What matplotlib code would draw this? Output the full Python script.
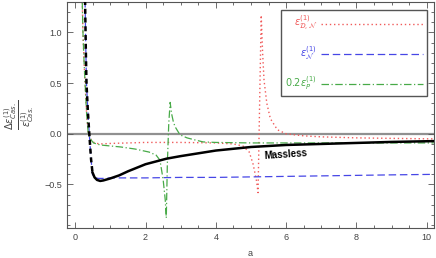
import matplotlib.pyplot as plt
from matplotlib.ticker import MultipleLocator

plt.rcParams['font.family'] = ['Liberation Sans', 'DejaVu Sans']
plt.rcParams['mathtext.fontset'] = 'dejavusans'

# massless curve
m_x = [0.28, 0.30, 0.32, 0.36, 0.40, 0.45, 0.49, 0.55, 0.62, 0.71, 0.80, 1.0, 1.25,
       1.5, 2.0, 2.6, 3.0, 4.0, 5.0, 6.0, 7.0, 8.0, 9.0, 10.2]
m_y = [1.32, 0.85, 0.50, 0.22, 0.0, -0.25, -0.38, -0.43, -0.455, -0.465, -0.46, -0.44,
       -0.41, -0.37, -0.30, -0.245, -0.22, -0.165, -0.13, -0.11, -0.10, -0.09, -0.08, -0.072]

# eps_N (blue dashed)
n_x = [0.28, 0.30, 0.32, 0.36, 0.40, 0.45, 0.49, 0.55, 0.65, 0.8, 1.0, 2.0, 3.0, 4.0,
       5.0, 6.0, 7.0, 8.0, 9.0, 10.2]
n_y = [1.32, 0.85, 0.50, 0.22, 0.0, -0.25, -0.40, -0.43, -0.44, -0.44, -0.435, -0.435,
       -0.43, -0.43, -0.425, -0.42, -0.415, -0.41, -0.405, -0.40]

# eps_DN (red dotted)
dn_x = [0.20, 0.22, 0.25, 0.28, 0.32, 0.37, 0.45, 0.55, 0.7, 1.0, 1.5, 2.0, 3.0, 4.0,
        4.5, 4.77, 4.95, 5.06, 5.15, 5.20, 5.29, 5.33, 5.37, 5.45, 5.55, 5.75, 6.0,
        6.5, 7.0, 8.0, 9.0, 10.2]
dn_y = [1.30, 1.0, 0.72, 0.5, 0.22, 0.0, -0.06, -0.09, -0.10, -0.095, -0.09, -0.085,
        -0.085, -0.09, -0.10, -0.12, -0.18, -0.30, -0.45, -0.58, 1.17, 0.80, 0.53,
        0.30, 0.15, 0.04, 0.0, -0.02, -0.03, -0.04, -0.045, -0.05]

# 0.2 eps_P (green dash-dot)
p_x = [0.20, 0.22, 0.25, 0.28, 0.32, 0.37, 0.45, 0.52, 0.71, 1.0, 1.3, 1.7, 2.1, 2.3,
       2.41, 2.5, 2.56, 2.59, 2.62, 2.66, 2.70, 2.74, 2.79, 2.84, 2.98, 3.18, 3.4,
       3.64, 4.0, 5.0, 6.0, 7.0, 8.0, 9.0, 10.2]
p_y = [1.30, 1.0, 0.72, 0.5, 0.22, 0.0, -0.06, -0.09, -0.11, -0.12, -0.13, -0.15,
       -0.18, -0.21, -0.26, -0.45, -0.65, -0.83, -0.3, 0.1, 0.31, 0.20, 0.12, 0.07,
       -0.01, -0.04, -0.06, -0.08, -0.085, -0.09, -0.09, -0.09, -0.09, -0.09, -0.09]

red = '#f05a5a'
blue = '#4646e6'
green = '#48aa48'
frame = '#555555'

fig = plt.figure(figsize=(4.36, 2.58), dpi=100)
ax = fig.add_axes([0.154, 0.116, 0.841, 0.876])

ax.axhline(0, color='#909090', lw=1.6, zorder=1)

ax.plot(dn_x, dn_y, color=red, ls=(0, (1, 2)), lw=1.0, label=r'$\epsilon^{(1)}_{\mathcal{D},\mathcal{N}}$')
ax.plot(n_x, n_y, color=blue, ls=(0, (6, 3)), lw=0.9, label=r'$\epsilon^{(1)}_{\mathcal{N}}$')
ax.plot(p_x, p_y, color=green, ls=(0, (6, 2, 1, 2)), lw=0.9, label=r'$0.2\epsilon^{(1)}_{P}$')

k = 7
ax.plot(m_x[:k], m_y[:k], color='black', lw=1.8, ls=(0, (2, 1.5)), zorder=4)
ax.plot(m_x[k - 1:], m_y[k - 1:], color='black', lw=1.8, zorder=4)

ax.text(6.0, -0.2, 'Massless', fontsize=7, fontweight='bold', ha='center', va='center',
        rotation=4)

ax.set_xlim(-0.23, 10.2)
ax.set_ylim(-0.93, 1.3)
ax.xaxis.set_major_locator(MultipleLocator(2))
ax.xaxis.set_minor_locator(MultipleLocator(0.5))
ax.yaxis.set_major_locator(MultipleLocator(0.5))
ax.yaxis.set_minor_locator(MultipleLocator(0.1))
ax.tick_params(which='both', direction='in', top=True, right=True, colors=frame,
               labelcolor='#444444', labelsize=6.5, width=0.6)
ax.tick_params(which='major', length=4)
ax.tick_params(which='minor', length=2)
ax.set_yticks([-0.5, 0.0, 0.5, 1.0])
ax.set_yticklabels(['\u22120.5', '0.0', '0.5', '1.0'])
for s in ax.spines.values():
    s.set_color(frame)
    s.set_linewidth(0.8)

ax.set_xlabel('a', fontsize=6.5, color='#444444', labelpad=5)
ax.set_ylabel(r'$\frac{\Delta\epsilon^{(1)}_{Cas.}}{\epsilon^{(1)}_{Cas.}}$', fontsize=10,
              color='#444444', labelpad=6)

leg = ax.legend(loc='upper right', bbox_to_anchor=(0.981, 0.965), markerfirst=False,
                handlelength=10.5, labelspacing=1.2, fontsize=7, fancybox=False,
                borderpad=0.4, handletextpad=0.4, borderaxespad=0, framealpha=1)
leg.get_frame().set_edgecolor(frame)
leg.get_frame().set_linewidth(1.0)
for t, c in zip(leg.get_texts(), [red, blue, green]):
    t.set_color(c)
    t.set_fontweight('bold')

fig.savefig('out.png', dpi=100)
